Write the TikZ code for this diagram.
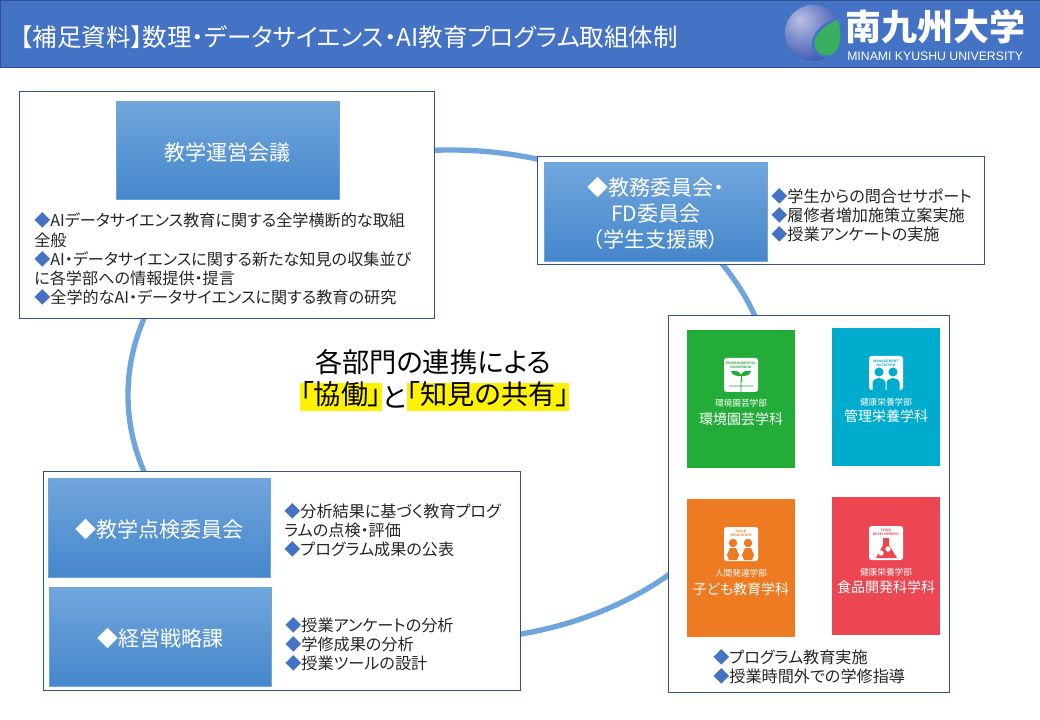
\documentclass[tikz,border=0pt]{standalone}
\usepackage{fontspec}
\usepackage{xcolor}
\setmainfont[RawFeature={+palt}]{Noto Sans CJK JP}
\newfontfamily\logolatin{Liberation Sans}
\usetikzlibrary{positioning}
\definecolor{headblue}{HTML}{4472C4}
\definecolor{edgeblue}{HTML}{2F528F}
\definecolor{ringblue}{HTML}{6FA5DC}
\definecolor{roletop}{HTML}{71A6DD}
\definecolor{rolebottom}{HTML}{4587CB}
\definecolor{cardgreen}{HTML}{23AC38}
\definecolor{cardcyan}{HTML}{00ACCD}
\definecolor{cardorange}{HTML}{EE7A21}
\definecolor{cardred}{HTML}{EB4651}
\definecolor{leafgreen}{HTML}{38B060}
\pgfdeclareradialshading{logoball}{\pgfpoint{-12bp}{12bp}}{
  rgb(0bp)=(0.74,0.75,0.89);
  rgb(16bp)=(0.50,0.56,0.80);
  rgb(36bp)=(0.22,0.34,0.68);
  rgb(56bp)=(0.06,0.20,0.60);
  rgb(100bp)=(0.06,0.20,0.60)}
\newcommand{\diam}{\textcolor{headblue}{◆}}
\tikzset{
  x=0.75pt, y=-0.75pt,
  framebox/.style={draw=edgeblue, fill=white, line width=0.75pt},
  rolebox/.style={
    draw=ringblue, line width=0.5pt, top color=roletop, middle color=ringblue!60!rolebottom, bottom color=rolebottom,
    inner sep=0pt, anchor=north west
  },
  rolelabel/.style={
    text=white, align=center, inner sep=0pt, yshift=-1.5pt,
    font=\fontsize{15.8}{19.5}\selectfont
  },
  notes/.style={
    anchor=west, align=left, inner sep=0pt, text=black!85,
    font=\fontsize{12.1}{14.3}\selectfont
  },
  deptcard/.style={
    anchor=north west, inner sep=0pt, minimum width=81pt, minimum height=103.5pt
  },
  iconbox/.style={
    fill=white, rounded corners=2pt, inner sep=0pt, minimum width=25.5pt, minimum height=25.5pt
  },
  iconlabel/.style={
    font=\logolatin\fontsize{2.6}{3}\selectfont\bfseries, align=center, inner sep=0pt
  },
  subname/.style={text=white, inner sep=0pt, font=\fontsize{6.5}{8}\selectfont},
  mainname/.style={text=white, inner sep=0pt, font=\fontsize{10.5}{12}\selectfont},
  marker/.style={fill=yellow, inner sep=0pt, text height=16pt, text depth=5pt, font=\fontsize{20.4}{24}\selectfont},
}
\begin{document}
\begin{tikzpicture}
  \useasboundingbox (0,0) rectangle (1040,720);
  \fill[white] (0,0) rectangle (1040,720);

  % Header band
  \node[draw=edgeblue, fill=headblue, anchor=north west, minimum width=780pt, minimum height=50.5pt, inner sep=0pt] (header) at (0,0) {};
  \node[text=white, anchor=west, inner sep=0pt, font=\fontsize{18.4}{20}\selectfont] (title) at (20,37)
    {【補足資料】数理・データサイエンス・AI教育プログラム取組体制};

  % Logo
  \shade[shading=logoball] (813,33) circle (21pt);
  \draw[fill=leafgreen, draw=headblue, line width=1.8pt]
    (839,18) .. controls (843,34) and (843,46) .. (835,54)
    .. controls (827,60) and (815,56) .. (813,45)
    .. controls (812,33) and (826,22) .. (839,18) -- cycle;
  \node[text=white, anchor=west, inner sep=0pt, font=\fontsize{27}{30}\selectfont\bfseries] (logoname) at (845,27) {南九州大学};
  \node[text=white, anchor=west, inner sep=0pt, font=\logolatin\fontsize{9.2}{11}\selectfont] (logolatin) at (847,56) {MINAMI KYUSHU UNIVERSITY};

  % Ring behind the boxes
  \draw[ringblue, line width=4pt] (450,395) ellipse [x radius=322, y radius=245];

  % Top left block
  \draw[framebox] (19.5,92) rectangle (434.5,319);
  \node[rolebox, minimum width=167pt, minimum height=73.5pt,
    label={[rolelabel]center:教学運営会議}] (unei) at (116,101) {};
  \node[notes] (uneinotes) at (34,259) {\diam AIデータサイエンス教育に関する全学横断的な取組\\全般\\\diam AI・データサイエンスに関する新たな知見の収集並び\\に各学部への情報提供・提言\\\diam 全学的なAI・データサイエンスに関する教育の研究};

  % Top right block
  \draw[framebox] (537.5,157) rectangle (984.5,265);
  \node[rolebox, minimum width=167pt, minimum height=74pt,
    label={[rolelabel]center:◆教務委員会・\\FD委員会\\（学生支援課）}] (kyomu) at (544,162) {};
  \node[notes] (kyomunotes) at (771,215) {\diam 学生からの問合せサポート\\\diam 履修者増加施策立案実施\\\diam 授業アンケートの実施};

  % Centre message
  \node[inner sep=0pt, font=\fontsize{20.4}{24}\selectfont] (renkei) at (433,362) {各部門の連携による};
  \node[marker, anchor=west] (kyodo) at (300,397) {「協働」};
  \node[inner sep=0pt, right=0pt of kyodo, font=\fontsize{20.4}{24}\selectfont] (to) {と};
  \node[marker, right=0pt of to] (chiken) {「知見の共有」};

  % Right block with the four departments
  \draw[framebox] (668.5,315.5) rectangle (949.5,692);
  \node[deptcard, fill=cardgreen] (engei) at (687,330) {};
  \node[deptcard, fill=cardcyan] (kanri) at (832,328) {};
  \node[deptcard, fill=cardorange] (kodomo) at (687,499) {};
  \node[deptcard, fill=cardred] (shokuhin) at (832,497) {};

  \node[iconbox] (engeiicon) at (741,375) {};
  \node[iconlabel, text=cardgreen] at (741,365) {ENVIRONMENTAL\\GARDENING};
  \fill[cardgreen] (741,382) -- (741,376) .. controls (735,376) and (732,375) .. (731,371)
    .. controls (737,370) and (740,372) .. (741,375) .. controls (742,372) and (745,370) .. (751,371)
    .. controls (750,375) and (747,376) .. (742,376) -- (742,382) -- cycle;
  \draw[cardgreen, line width=0.6pt] (728,392) arc (180:0:13) (741,379) -- (741,392) (729,386) -- (753,386);
  \node[subname] at (741,403) {環境園芸学部};
  \node[mainname] at (741,419) {環境園芸学科};

  \node[iconbox] (kanriicon) at (886,373) {};
  \node[iconlabel, text=cardcyan] at (886,363) {MANAGEMENT\\NUTRITION};
  \foreach \x in {879,893} {
    \fill[cardcyan] (\x,372) circle (3.4pt);
    \fill[cardcyan] (\x-6.5,390) -- (\x-6.5,383) .. controls (\x-6.5,380) and (\x-3,378) .. (\x,378)
      .. controls (\x+3,378) and (\x+6.5,380) .. (\x+6.5,383) -- (\x+6.5,390) -- cycle;
  }
  \node[subname] at (886,402) {健康栄養学部};
  \node[mainname] at (886,416) {管理栄養学科};

  \node[iconbox] (kodomoicon) at (741,544) {};
  \node[iconlabel, text=cardorange] at (741,533) {CHILD\\EDUCATION};
  \foreach \x in {733,748} {
    \fill[cardorange] (\x,543) circle (3.2pt);
    \fill[cardorange] (\x-4,560) -- (\x-6,555) -- (\x-3,548) -- (\x+3,548) -- (\x+6,555) -- (\x+4,560) -- cycle;
  }
  \node[subname] at (741,573) {人間発達学部};
  \node[mainname] at (741,589) {子ども教育学科};

  \node[iconbox] (shokuhinicon) at (886,543) {};
  \node[iconlabel, text=cardred] at (886,532) {FOOD\\DEVELOPMENT};
  \fill[cardred] (883,538) -- (889,538) -- (889,545) -- (897,558) -- (876,558) -- (883,545) -- cycle;
  \fill[white] (881,553) circle (2pt) (888,549) circle (2pt);
  \node[subname] at (886,572) {健康栄養学部};
  \node[mainname] at (886,587) {食品開発科学科};

  \node[notes] (deptnotes) at (713,667) {\diam プログラム教育実施\\\diam 授業時間外での学修指導};

  % Bottom left block
  \draw[framebox] (43.5,471.5) rectangle (520.5,690);
  \node[rolebox, minimum width=166.5pt, minimum height=74pt,
    label={[rolelabel]center:◆教学点検委員会}] (tenken) at (48,478) {};
  \node[rolebox, minimum width=166.5pt, minimum height=74pt,
    label={[rolelabel]center:◆経営戦略課}] (keiei) at (49,587) {};
  \node[notes] (tenkennotes) at (284,530) {\diam 分析結果に基づく教育プログ\\ラムの点検・評価\\\diam プログラム成果の公表};
  \node[notes] (keieinotes) at (285,644) {\diam 授業アンケートの分析\\\diam 学修成果の分析\\\diam 授業ツールの設計};
\end{tikzpicture}
\end{document}
